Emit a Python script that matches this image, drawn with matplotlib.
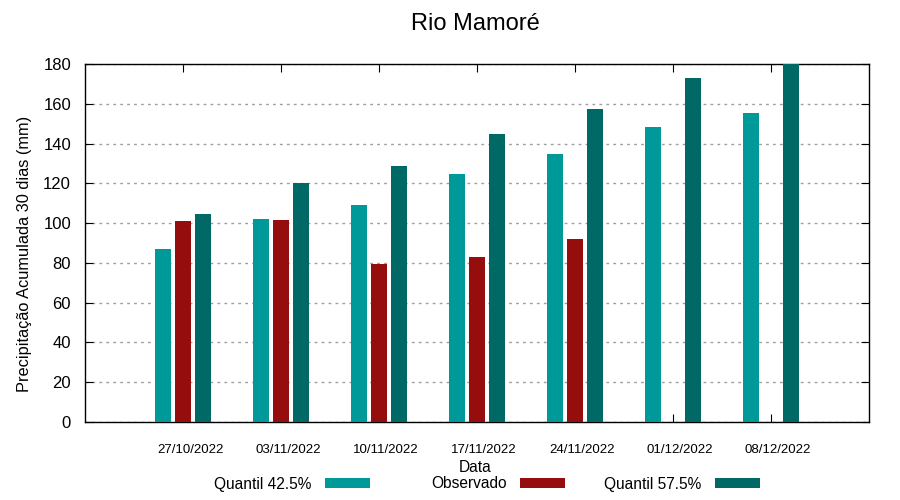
import numpy as np
import matplotlib
matplotlib.use("Agg")
import matplotlib.pyplot as plt
import matplotlib.transforms as mtransforms

plt.rcParams['font.family'] = ['Liberation Sans', 'DejaVu Sans']

datas = ["27/10/2022", "03/11/2022", "10/11/2022", "17/11/2022",
         "24/11/2022", "01/12/2022", "08/12/2022"]
q425 = [87, 102, 109, 124.7, 135, 148.3, 155.4]
observado = [101, 101.5, 79.5, 83, 92, np.nan, np.nan]
q575 = [104.6, 120, 128.7, 144.8, 157.4, 173, 180]

cores = ["#009999", "#960D0D", "#006966"]
nomes = ["Quantil 42.5%", "Observado", "Quantil 57.5%"]

fig = plt.figure(figsize=(9, 5), dpi=100)
ax = fig.add_axes([85/900, 78/500, 784/900, 358/500])

x = np.arange(len(datas))
w = 0.163
barras = []
for i, (serie, cor) in enumerate(zip([q425, observado, q575], cores)):
    b = ax.bar(x + (i - 1) * 0.2, serie, width=w, color=cor, zorder=3)
    barras.append(b)

ax.set_xlim(-1, 7)
ax.set_ylim(0, 180)
ax.set_yticks(range(0, 181, 20))
ax.set_xticks(x)
ax.set_xticklabels(datas, fontsize=9.5)
ax.tick_params(axis='y', labelsize=12, direction='in', right=True, length=6, pad=10)
ax.tick_params(axis='x', direction='in', top=True, length=6, pad=16)
desloc = mtransforms.ScaledTranslation(7/100, 0, fig.dpi_scale_trans)
for lab in ax.get_xticklabels():
    lab.set_transform(lab.get_transform() + desloc)

ax.grid(axis='y', color='#a0a0a0', linestyle=(0, (2, 3)), linewidth=1, zorder=0)
for s in ax.spines.values():
    s.set_linewidth(1)

fig.text(25/900, 1 - 254/500, "Precipitação Acumulada 30 dias (mm)",
         rotation=90, ha='center', va='center', fontsize=11.8)
fig.text(475/900, 1 - 468/500, "Data", ha='center', va='center', fontsize=11.2)
fig.text(475/900, 1 - 24/500, "Rio Mamoré", ha='center', va='center', fontsize=17)

direitas = [370, 565, 760]
for b, nome, xd in zip(barras, nomes, direitas):
    leg = fig.legend([b], [nome], loc='center right',
                     bbox_to_anchor=(xd/900, 1 - 484/500),
                     frameon=False, markerfirst=False, fontsize=11.2,
                     handlelength=2.9, handleheight=0.6, handletextpad=0.85,
                     borderpad=0, borderaxespad=0)

fig.savefig("out.png", dpi=100)
